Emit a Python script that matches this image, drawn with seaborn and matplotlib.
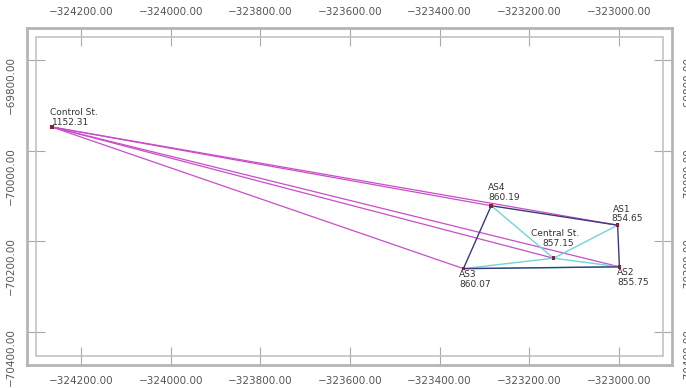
import pandas as pd
import seaborn as sns
import matplotlib.pyplot as plt
from matplotlib.patches import Rectangle
from matplotlib.ticker import FuncFormatter

# stations (easting, northing) and heights
names = ['Control St.', 'AS4', 'AS1', 'Central St.', 'AS2', 'AS3']
east = [-324265, -323285, -323003, -323146, -322999, -323347]
north = [-69947, -70121, -70164, -70237, -70256, -70260]
heights = ['1152.31', '860.19', '854.65', '857.15', '855.75', '860.07']

# label offsets in pixels (name, value)
name_off = [(-2, 15), (-3, 18), (-5, 16), (-23, 25), (-2, -6), (-4, -6)]
val_off = [(0, 5), (-3, 8), (-6, 7), (-11, 15), (-2, -16), (-4, -16)]

# observations
long_lines = [('Control St.', 'AS4'), ('Control St.', 'AS1'), ('Control St.', 'AS2'),
              ('Control St.', 'Central St.'), ('Control St.', 'AS3')]
frame_lines = [('AS4', 'AS1'), ('AS1', 'AS2'), ('AS2', 'AS3'), ('AS3', 'AS4')]
inner_lines = [('AS4', 'Central St.'), ('AS1', 'Central St.'), ('AS3', 'Central St.'),
               ('Central St.', 'AS2'), ('AS3', 'AS2')]

x_ticks = [-324200, -324000, -323800, -323600, -323400, -323200, -323000]
y_ticks = [-69800, -70000, -70200, -70400]

df = pd.DataFrame({'name': names, 'x': east, 'y': north, 'h': heights})
pos = df.set_index('name')[['x', 'y']]

sns.set_style('white')
plt.rcParams['font.family'] = ['DejaVu Sans']

fig = plt.figure(figsize=(6.86, 3.88), dpi=100)
ax = fig.add_axes([27 / 686, 23 / 388, 645 / 686, 337 / 388])

def draw(edges, color, lw):
    for a, b in edges:
        ax.plot([pos.loc[a, 'x'], pos.loc[b, 'x']], [pos.loc[a, 'y'], pos.loc[b, 'y']],
                color=color, lw=lw, solid_capstyle='round', zorder=2)

draw(long_lines, '#c84ec8', 0.9)
draw(inner_lines, '#6fd6d6', 1.0)
draw(frame_lines, '#3b3a7a', 1.0)

sns.scatterplot(data=df, x='x', y='y', ax=ax, color='#8a1c3c', s=7, marker='s',
                edgecolor='none', zorder=3, legend=False)

for i in range(len(df)):
    ax.annotate(names[i], (east[i], north[i]), xytext=name_off[i], textcoords='offset pixels',
                fontsize=6.5, color='#333333', ha='left', va='center')
    ax.annotate(heights[i], (east[i], north[i]), xytext=val_off[i], textcoords='offset pixels',
                fontsize=6.5, color='#333333', ha='left', va='center')

ax.set_xlim(-324320.5, -322881.7)
ax.set_ylim(-70473, -69728.2)
ax.set_xticks(x_ticks)
ax.set_yticks(y_ticks)
fmt = FuncFormatter(lambda v, p: f'{v:.2f}'.replace('-', '\u2212'))
ax.xaxis.set_major_formatter(fmt)
ax.yaxis.set_major_formatter(fmt)
ax.set_xlabel('')
ax.set_ylabel('')

ax.tick_params(direction='in', length=13, width=0.8, color='#a8a8a8', pad=8,
               labelsize=7.5, labelcolor='#555555',
               top=True, bottom=True, left=True, right=True,
               labeltop=True, labelbottom=True, labelleft=True, labelright=True)
ax.tick_params(axis='y', labelrotation=90)

for s in ax.spines.values():
    s.set_color('#b5b5b5')
    s.set_linewidth(2)

dx, dy = 9 / 645, 9 / 337
ax.add_patch(Rectangle((dx, dy), 1 - 2 * dx, 1 - 2 * dy, transform=ax.transAxes,
                       fill=False, edgecolor='#c2c2c2', lw=1.2, zorder=1))

fig.savefig('out.png', dpi=100)
